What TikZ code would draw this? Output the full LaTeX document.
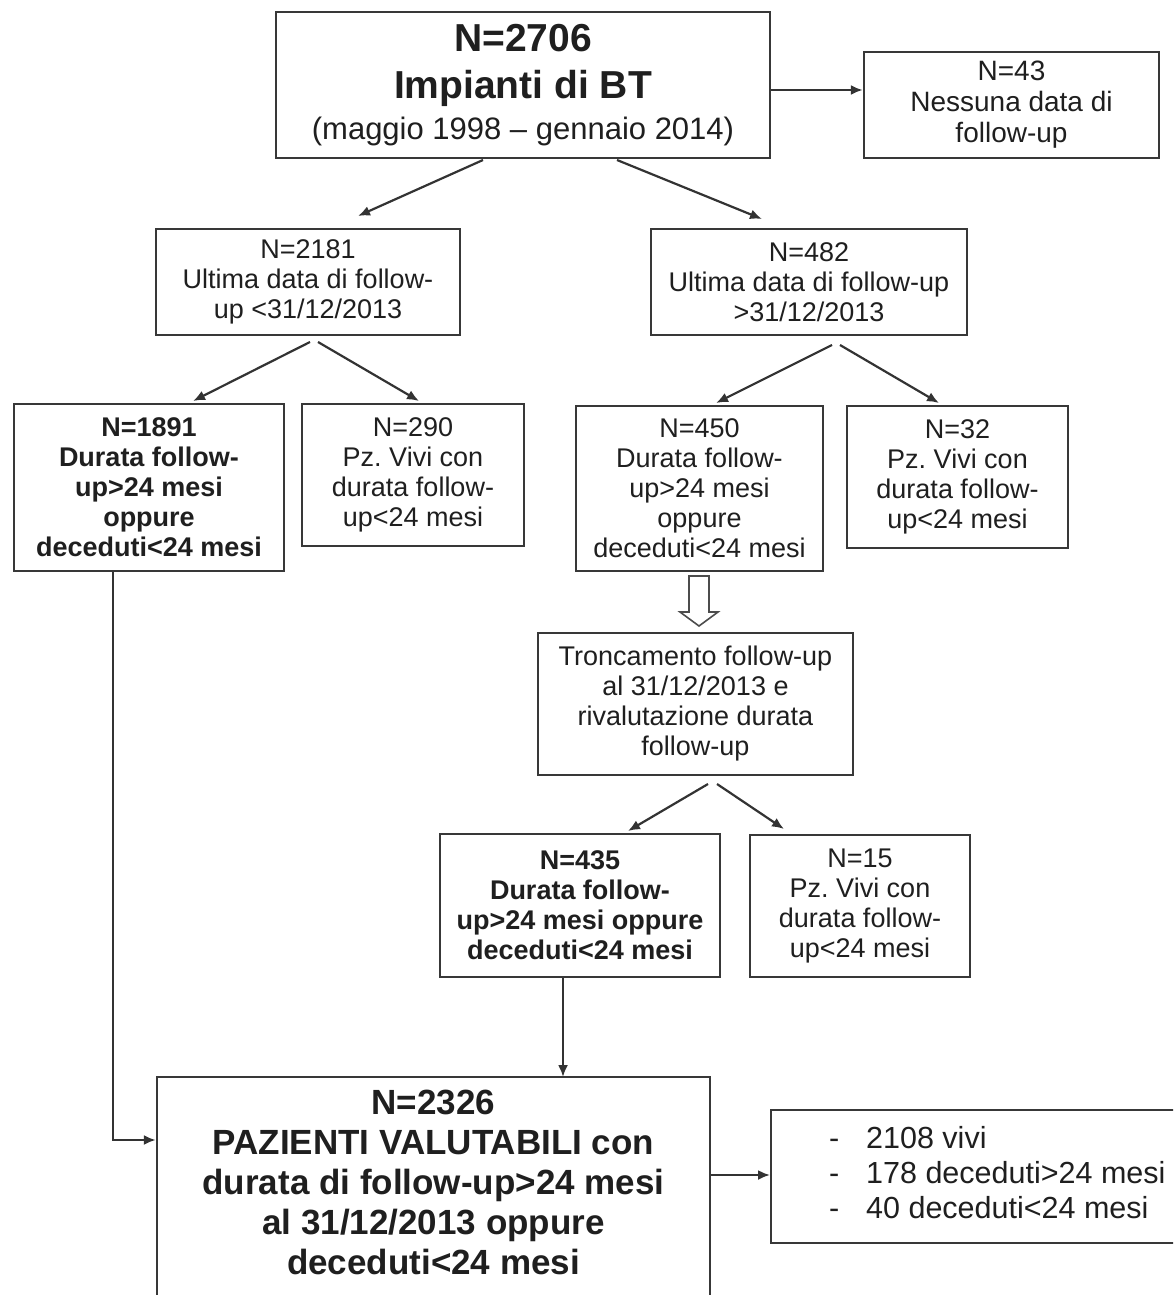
\documentclass[tikz,border=0pt]{standalone}
\usepackage{fontspec}
\setmainfont{Liberation Sans}
\usetikzlibrary{arrows.meta}
\begin{document}
\frenchspacing
\begin{tikzpicture}[x=1pt,y=-1pt,
  box/.style={draw=black!78, line width=2.4pt, fill=white, align=center, inner sep=0pt, text=black!88},
  sm/.style={font=\fontsize{27}{30}\selectfont},
  smb/.style={font=\fontsize{27}{30}\selectfont\bfseries},
  plain/.style={align=center, inner sep=0pt, text=black!88},
  arr/.style={draw=black!80, line width=2.2pt, -{Latex[length=12pt,width=10pt]}},
  hollow/.style={draw=black!70, line width=1.6pt, fill=white, line join=miter}
]
\useasboundingbox (0,0) rectangle (1173,1295);
\clip (0,0) rectangle (1173,1295);

% boxes
\node[box, font=\fontsize{39}{47}\selectfont, minimum width=494pt, minimum height=146pt] (top) at (523,85)
  {{\bfseries N=2706}\\{\bfseries Impianti di BT}\\[-6pt]{\fontsize{31}{40}\selectfont (maggio 1998 – gennaio 2014)}};
\node[box, font=\fontsize{28}{31}\selectfont, minimum width=295pt, minimum height=106pt] (n43) at (1011.5,105)
  {N=43\\Nessuna data di\\follow-up};
\node[box, sm, minimum width=304pt, minimum height=106pt] (n2181) at (308,282)
  {N=2181\\Ultima data di follow-\\up <31/12/2013};
\node[box, sm, minimum width=316pt, minimum height=106pt] (n482) at (809,282)
  {N=482\\Ultima data di follow-up\\>31/12/2013};
\node[box, smb, minimum width=270pt, minimum height=167pt] (n1891) at (149,487.5)
  {N=1891\\Durata follow-\\up>24 mesi\\oppure\\deceduti<24 mesi};
\node[box, sm, minimum width=222pt, minimum height=142pt] (n290) at (413,475)
  {N=290\\Pz. Vivi con\\durata follow-\\up<24 mesi};
\node[box, sm, minimum width=247pt, minimum height=165pt] (n450) at (699.5,488.5)
  {N=450\\Durata follow-\\up>24 mesi\\oppure\\deceduti<24 mesi};
\node[box, sm, minimum width=221pt, minimum height=142pt] (n32) at (957.5,477)
  {N=32\\Pz. Vivi con\\durata follow-\\up<24 mesi};
\node[box, sm, minimum width=315pt, minimum height=142pt] (tronc) at (695.5,704)
  {Troncamento follow-up\\al 31/12/2013 e\\rivalutazione durata\\follow-up};
\node[box, smb, minimum width=280pt, minimum height=143pt] (n435) at (580,905.5)
  {N=435\\Durata follow-\\up>24 mesi oppure\\deceduti<24 mesi};
\node[box, sm, minimum width=220pt, minimum height=142pt] (n15) at (860,906)
  {N=15\\Pz. Vivi con\\durata follow-\\up<24 mesi};

% bottom box (runs past the lower edge)
\node[box, minimum width=553pt, minimum height=250pt, anchor=north] (bot) at (433.5,1076) {};
\node[plain, font=\fontsize{35}{40}\selectfont\bfseries] (bottxt) at (433.5,1182)
  {N=2326\\PAZIENTI VALUTABILI con\\durata di follow-up>24 mesi\\al 31/12/2013 oppure\\deceduti<24 mesi};

% right box (runs past the right edge)
\node[box, minimum width=430pt, minimum height=133pt, anchor=west] (res) at (770,1176.5) {};
\node[plain, align=left, anchor=west, font=\fontsize{30.5}{35}\selectfont] (restxt) at (829,1173)
  {\makebox[37pt][l]{-}2108 vivi\\\makebox[37pt][l]{-}178 deceduti>24 mesi\\\makebox[37pt][l]{-}40 deceduti<24 mesi};

% connector end points
\coordinate (a1s) at (483,160);  \coordinate (a1e) at (358,216);
\coordinate (a2s) at (617,160);  \coordinate (a2e) at (762,219);
\coordinate (b1s) at (310,342);  \coordinate (b1e) at (193,401);
\coordinate (b2s) at (318,342);  \coordinate (b2e) at (419,401);
\coordinate (c1s) at (832,345);  \coordinate (c1e) at (716,403);
\coordinate (c2s) at (840,345);  \coordinate (c2e) at (939,403);
\coordinate (d1s) at (708,784);  \coordinate (d1e) at (628,831);
\coordinate (d2s) at (717,784);  \coordinate (d2e) at (784,829);
\coordinate (y90) at (0,90);
\coordinate (y1140) at (0,1140);
\coordinate (y1175) at (0,1175);
\coordinate (x113) at (113,0);
\coordinate (x563) at (563,0);

% connectors
\draw[arr] (top.east |- y90) -- (n43.west |- y90);
\draw[arr] (a1s) -- (a1e);
\draw[arr] (a2s) -- (a2e);
\draw[arr] (b1s) -- (b1e);
\draw[arr] (b2s) -- (b2e);
\draw[arr] (c1s) -- (c1e);
\draw[arr] (c2s) -- (c2e);
\draw[arr] (d1s) -- (d1e);
\draw[arr] (d2s) -- (d2e);
\draw[arr] (n435.south -| x563) -- ([yshift=-1pt]bot.north -| x563);
\draw[arr] (n1891.south -| x113) |- (bot.west |- y1140);
\draw[arr] (bot.east |- y1175) -- (res.west |- y1175);

% hollow block arrow
\draw[hollow] (689,576) -- (709,576) -- (709,612) -- (718,612) -- (699,626) -- (680,612) -- (689,612) -- cycle;
\end{tikzpicture}
\end{document}
